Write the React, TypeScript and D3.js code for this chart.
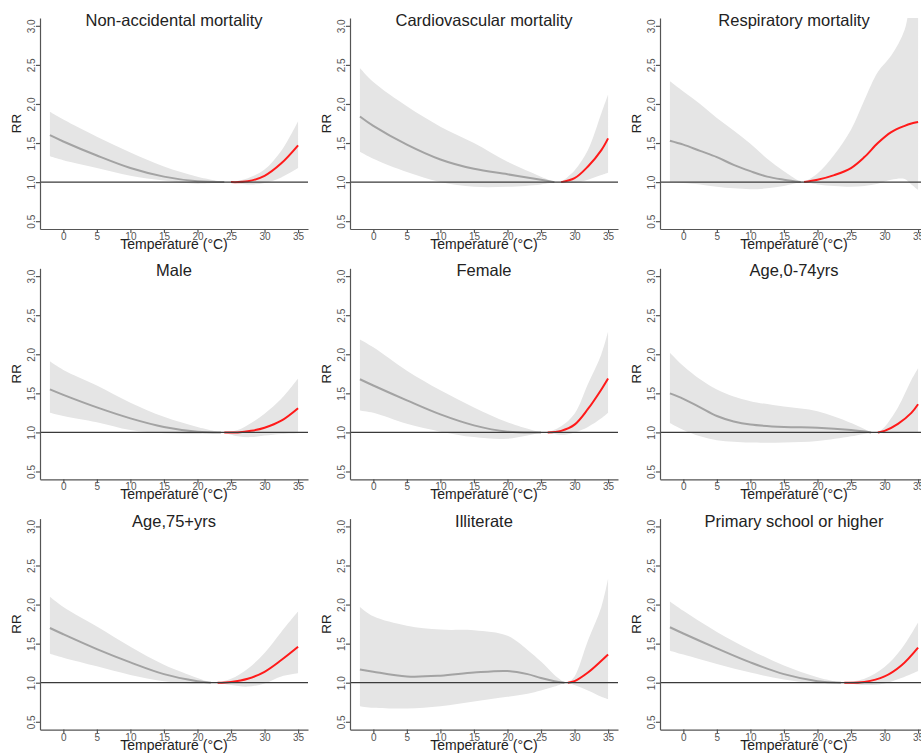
import React, { useEffect, useRef } from "react";
import * as d3 from "d3";

// each row: [temperature, RR, lower 95% CI, upper 95% CI]
const nonAccidentalCold = [[-2, 1.6, 1.33, 1.9], [0, 1.52, 1.28, 1.8], [5, 1.34, 1.18, 1.58], [10, 1.18, 1.08, 1.38], [15, 1.07, 1.02, 1.2], [20, 1.01, 0.98, 1.07], [24, 1.0, 1.0, 1.0]];
const nonAccidentalHot = [[25, 1.0, 1.0, 1.0], [27.5, 1.01, 0.97, 1.05], [30, 1.08, 0.99, 1.16], [32.5, 1.24, 1.06, 1.4], [35, 1.47, 1.18, 1.78]];

const cardioCold = [[-2, 1.84, 1.39, 2.46], [0, 1.72, 1.3, 2.28], [5, 1.48, 1.13, 1.97], [10, 1.29, 1.0, 1.71], [15, 1.17, 0.94, 1.5], [20, 1.1, 0.94, 1.26], [25, 1.03, 0.97, 1.07], [27, 1.0, 1.0, 1.0]];
const cardioHot = [[28, 1.0, 1.0, 1.0], [30, 1.05, 0.99, 1.15], [32, 1.2, 1.03, 1.41], [34, 1.41, 1.09, 1.88], [35, 1.56, 1.12, 2.12]];

const respCold = [[-2, 1.53, 1.0, 2.29], [0, 1.48, 0.99, 2.16], [2.5, 1.4, 0.97, 2.0], [5, 1.32, 0.94, 1.82], [7.5, 1.22, 0.92, 1.66], [10, 1.14, 0.91, 1.49], [12.5, 1.07, 0.92, 1.3], [15, 1.03, 0.95, 1.14], [17.5, 1.0, 1.0, 1.0]];
const respHot = [[18, 1.0, 1.0, 1.0], [20, 1.03, 0.97, 1.11], [22.5, 1.09, 0.95, 1.35], [25, 1.18, 0.94, 1.67], [27, 1.32, 0.95, 2.05], [29, 1.5, 0.98, 2.41], [31, 1.64, 1.03, 2.62], [33, 1.72, 1.04, 2.95], [34, 1.75, 0.97, 3.4], [35, 1.77, 0.9, 3.6]];

const maleCold = [[-2, 1.55, 1.25, 1.91], [0, 1.48, 1.21, 1.8], [5, 1.32, 1.13, 1.6], [10, 1.18, 1.03, 1.38], [15, 1.07, 0.99, 1.2], [20, 1.01, 0.98, 1.07], [23.5, 1.0, 1.0, 1.0]];
const maleHot = [[24, 1.0, 1.0, 1.0], [26, 1.0, 0.95, 1.03], [28, 1.02, 0.94, 1.12], [30, 1.06, 0.96, 1.24], [32.5, 1.15, 0.98, 1.43], [35, 1.31, 0.99, 1.69]];

const femaleCold = [[-2, 1.68, 1.28, 2.19], [0, 1.6, 1.25, 2.09], [5, 1.41, 1.11, 1.79], [10, 1.23, 1.01, 1.54], [15, 1.09, 0.94, 1.32], [20, 1.01, 0.92, 1.13], [25, 1.0, 1.0, 1.0]];
const femaleHot = [[26, 1.0, 1.0, 1.0], [28, 1.02, 0.97, 1.08], [30, 1.1, 1.0, 1.24], [32, 1.3, 1.07, 1.62], [34, 1.55, 1.18, 2.0], [35, 1.69, 1.25, 2.29]];

const age074Cold = [[-2, 1.5, 1.12, 2.02], [0, 1.43, 1.03, 1.85], [2.5, 1.32, 0.95, 1.68], [5, 1.21, 0.9, 1.55], [7.5, 1.14, 0.88, 1.46], [10, 1.1, 0.87, 1.4], [15, 1.07, 0.87, 1.33], [20, 1.06, 0.89, 1.27], [25, 1.03, 0.95, 1.12], [28, 1.0, 1.0, 1.0]];
const age074Hot = [[29, 1.0, 1.0, 1.0], [30, 1.02, 0.99, 1.07], [32, 1.11, 0.99, 1.32], [34, 1.25, 1.0, 1.67], [35, 1.36, 1.0, 1.82]];

const age75Cold = [[-2, 1.7, 1.37, 2.1], [0, 1.62, 1.32, 1.97], [5, 1.43, 1.21, 1.72], [10, 1.26, 1.1, 1.46], [15, 1.11, 1.02, 1.23], [20, 1.02, 0.99, 1.06], [22, 1.0, 1.0, 1.0]];
const age75Hot = [[23, 1.0, 1.0, 1.0], [25, 1.01, 0.97, 1.05], [27.5, 1.05, 0.95, 1.18], [30, 1.14, 0.99, 1.38], [32.5, 1.29, 1.08, 1.65], [35, 1.46, 1.12, 1.91]];

const illiterateCold = [[-2, 1.17, 0.7, 1.97], [0, 1.14, 0.68, 1.85], [5, 1.08, 0.67, 1.73], [10, 1.09, 0.7, 1.68], [15, 1.13, 0.76, 1.67], [20, 1.15, 0.82, 1.6], [23, 1.11, 0.86, 1.42], [25, 1.06, 0.9, 1.27], [27, 1.02, 0.95, 1.1], [28.5, 1.0, 1.0, 1.0]];
const illiterateHot = [[29, 1.0, 1.0, 1.0], [30, 1.02, 0.97, 1.08], [32, 1.13, 0.9, 1.54], [34, 1.28, 0.82, 1.97], [35, 1.36, 0.79, 2.33]];

const primaryCold = [[-2, 1.71, 1.41, 2.04], [0, 1.63, 1.36, 1.92], [5, 1.44, 1.24, 1.65], [10, 1.26, 1.13, 1.42], [15, 1.11, 1.04, 1.22], [20, 1.02, 0.99, 1.07], [23.5, 1.0, 1.0, 1.0]];
const primaryHot = [[24, 1.0, 1.0, 1.0], [27, 1.01, 0.97, 1.05], [30, 1.08, 0.99, 1.2], [32.5, 1.22, 1.06, 1.43], [35, 1.45, 1.15, 1.77]];

const titles = [
  "Non-accidental mortality", "Cardiovascular mortality", "Respiratory mortality",
  "Male", "Female", "Age,0-74yrs",
  "Age,75+yrs", "Illiterate", "Primary school or higher",
];
const coldSeries = [nonAccidentalCold, cardioCold, respCold, maleCold, femaleCold, age074Cold, age75Cold, illiterateCold, primaryCold];
const hotSeries = [nonAccidentalHot, cardioHot, respHot, maleHot, femaleHot, age074Hot, age75Hot, illiterateHot, primaryHot];

const xTicks = [0, 5, 10, 15, 20, 25, 30, 35];
const yTicks = [0.5, 1.0, 1.5, 2.0, 2.5, 3.0];

const width = 921;
const height = 754;
const font = "'Liberation Sans', Arial, sans-serif";

const App = () => {
  const ref = useRef<SVGSVGElement>(null);

  useEffect(() => {
    document.body.style.margin = "0";
    const svg = d3.select(ref.current);
    svg.selectAll("*").remove();

    // R-style plot region: data range padded by 4%
    const x = d3.scaleLinear().domain([-3.48, 36.48]).range([40, 308]);
    const y = d3.scaleLinear().domain([0.4, 3.1]).range([229, 18]);

    const curve = d3.curveCatmullRom.alpha(0.5);
    const area = d3
      .area<number[]>()
      .x((d) => x(d[0]))
      .y0((d) => y(d[2]))
      .y1((d) => y(d[3]))
      .curve(curve);
    const line = d3
      .line<number[]>()
      .x((d) => x(d[0]))
      .y((d) => y(d[1]))
      .curve(curve);

    titles.forEach((title, i) => {
      const col = i % 3;
      const row = Math.floor(i / 3);
      const g = svg
        .append("g")
        .attr("transform", `translate(${col * 310},${row * 250.3})`)
        .style("font-family", font);

      const clipId = `clip${i}`;
      g.append("clipPath")
        .attr("id", clipId)
        .append("rect")
        .attr("x", 40)
        .attr("y", 18)
        .attr("width", 268)
        .attr("height", 211);

      const plot = g.append("g").attr("clip-path", `url(#${clipId})`);
      [coldSeries[i], hotSeries[i]].forEach((s) =>
        plot.append("path").attr("d", area(s)).attr("fill", "#e5e5e5")
      );

      g.append("line")
        .attr("x1", 40)
        .attr("x2", 308)
        .attr("y1", y(1))
        .attr("y2", y(1))
        .attr("stroke", "#3a3a3a")
        .attr("stroke-width", 1.2);

      plot.append("path")
        .attr("d", line(coldSeries[i]))
        .attr("fill", "none")
        .attr("stroke", "#a3a3a3")
        .attr("stroke-width", 2);
      plot.append("path")
        .attr("d", line(hotSeries[i]))
        .attr("fill", "none")
        .attr("stroke", "#ff1a1a")
        .attr("stroke-width", 2);

      // axes (L-shaped box)
      const xAxis = g
        .append("g")
        .attr("transform", "translate(0,229)")
        .call(d3.axisBottom(x).tickValues(xTicks).tickSize(4).tickSizeOuter(0).tickPadding(0));
      xAxis.selectAll("text").attr("font-size", 10).attr("fill", "#555").style("font-family", font);

      const yAxis = g
        .append("g")
        .attr("transform", "translate(40,0)")
        .call(
          d3
            .axisLeft(y)
            .tickValues(yTicks)
            .tickFormat(d3.format(".1f"))
            .tickSize(4)
            .tickSizeOuter(0)
        );
      yAxis
        .selectAll("text")
        .attr("transform", "rotate(-90)")
        .attr("x", 0)
        .attr("y", -5)
        .attr("dy", 0)
        .attr("text-anchor", "middle")
        .attr("font-size", 10)
        .attr("fill", "#555")
        .style("font-family", font);

      [xAxis, yAxis].forEach((a) => {
        a.selectAll("path, line").attr("stroke", "#555").attr("stroke-width", 1.2);
      });

      g.append("text")
        .attr("x", 174)
        .attr("y", 26)
        .attr("text-anchor", "middle")
        .attr("font-size", 16.5)
        .attr("fill", "#222")
        .text(title);

      g.append("text")
        .attr("x", 174)
        .attr("y", 249)
        .attr("text-anchor", "middle")
        .attr("font-size", 14)
        .attr("fill", "#222")
        .text("Temperature (°C)");

      g.append("text")
        .attr("transform", "translate(21,123.5) rotate(-90)")
        .attr("text-anchor", "middle")
        .attr("font-size", 13.5)
        .attr("fill", "#222")
        .text("RR");
    });
  }, []);

  return <svg ref={ref} width={width} height={height} style={{ display: "block", background: "#fff" }} />;
};

export default App;
